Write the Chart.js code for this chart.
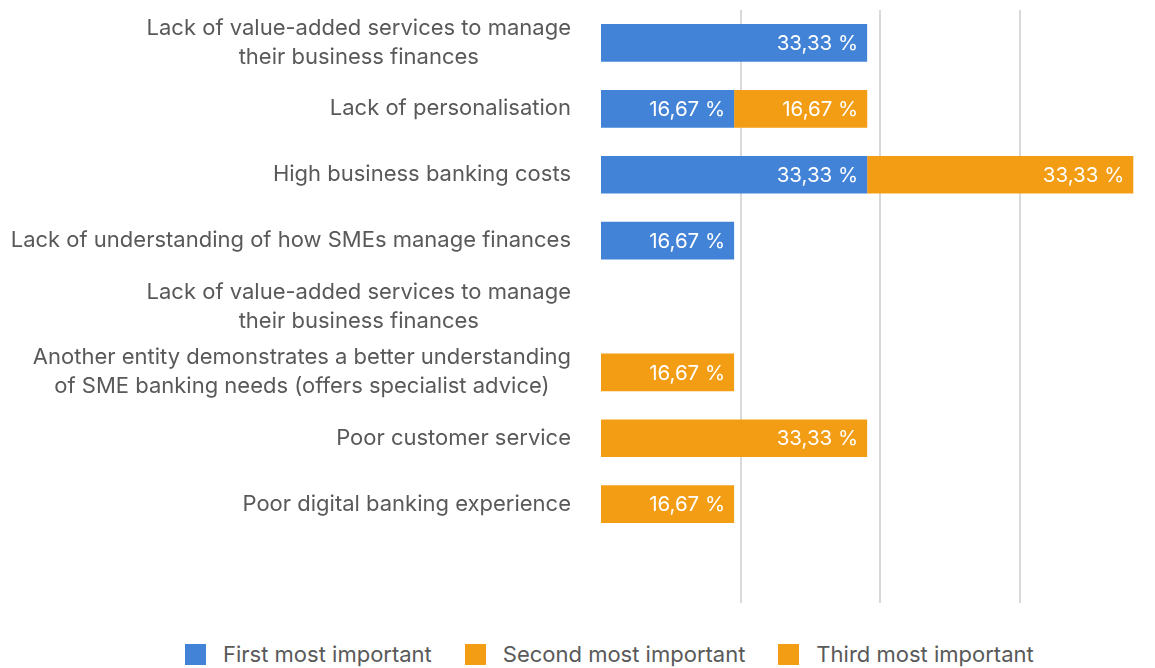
<!DOCTYPE html>
<html>
<head>
<meta charset="utf-8">
<script src="https://cdn.jsdelivr.net/npm/chart.js@4.4.0/dist/chart.umd.min.js"></script>
<style>
  html, body { margin:0; padding:0; background:#fff; }
  body { width:1155px; height:668px; overflow:hidden; font-family:Inter, sans-serif; position:relative; }
  #wrap { position:absolute; left:0; top:0; width:1155px; height:630px; }
  #legend { position:absolute; left:185px; top:644px; height:21px; display:flex; align-items:center; }
  .item { display:flex; align-items:center; margin-right:33px; }
  .box { width:21px; height:21px; margin-right:17px; }
  .txt { font-size:22px; color:#595959; line-height:21px; white-space:nowrap; }
</style>
</head>
<body>
<div id="wrap"><canvas id="chart"></canvas></div>
<div id="legend"></div>
<script>
const categories = [
  ['Lack of value-added services to manage', 'their business finances'],
  ['Lack of personalisation'],
  ['High business banking costs'],
  ['Lack of understanding of how SMEs manage finances'],
  ['Lack of value-added services to manage', 'their business finances'],
  ['Another entity demonstrates a better understanding', 'of SME banking needs (offers specialist advice)'],
  ['Poor customer service'],
  ['Poor digital banking experience'],
  ['']
];
const seriesNames = ['First most important', 'Second most important', 'Third most important'];
const firstVals  = [33.33, 16.67, 33.33, 16.67, null, null, null, null, null];
const secondVals = [null, 16.67, 33.33, null, null, 16.67, 33.33, null, null];
const thirdVals  = [null, null, null, null, null, null, null, 16.67, null];
const gridTicks  = [17.5, 35, 52.5];
const colors = ['#4283D7', '#F39D14', '#F39D14'];

const fmt = v => v.toFixed(2).replace('.', ',') + ' %';

const barValues = {
  id: 'barValues',
  afterDatasetsDraw(chart) {
    const ctx = chart.ctx;
    ctx.save();
    ctx.font = '20.5px Inter';
    ctx.fillStyle = '#fff';
    ctx.textAlign = 'right';
    ctx.textBaseline = 'middle';
    chart.data.datasets.forEach((ds, i) => {
      chart.getDatasetMeta(i).data.forEach((bar, j) => {
        const v = ds.data[j];
        if (!v) return;
        ctx.fillText(fmt(v), bar.x - 9, bar.y + 1);
      });
    });
    ctx.restore();
  }
};

// y labels: block right-aligned, lines centred inside the block
const catLabels = {
  id: 'catLabels',
  afterDraw(chart) {
    const ys = chart.scales.y, ctx = chart.ctx;
    const right = chart.chartArea.left - 30;
    ctx.save();
    ctx.font = '22px Inter';
    ctx.fillStyle = '#595959';
    ctx.textAlign = 'center';
    ctx.textBaseline = 'middle';
    categories.forEach((lines, i) => {
      const w = Math.max(...lines.map(l => ctx.measureText(l).width));
      const cx = right - w / 2;
      const cy = ys.getPixelForValue(i);
      lines.forEach((l, k) => ctx.fillText(l, cx, cy + (k - (lines.length - 1) / 2) * 29));
    });
    ctx.restore();
  }
};

const datasets = [firstVals, secondVals, thirdVals].map((d, i) => ({
  label: seriesNames[i],
  data: d,
  backgroundColor: colors[i],
  borderWidth: 0,
  barPercentage: 0.572,
  categoryPercentage: 1
}));

const chart = new Chart(document.getElementById('chart'), {
  type: 'bar',
  data: { labels: categories, datasets },
  options: {
    indexAxis: 'y',
    responsive: true,
    maintainAspectRatio: false,
    animation: false,
    layout: { padding: { top: 10, bottom: 27, left: 0, right: 11 } },
    plugins: { legend: { display: false }, tooltip: { enabled: false } },
    scales: {
      x: {
        stacked: true, min: 0, max: 68,
        afterBuildTicks: s => { s.ticks = gridTicks.map(v => ({ value: v })); },
        ticks: { display: false },
        border: { display: false },
        grid: { color: '#d9d9d9', lineWidth: 2, drawTicks: false }
      },
      y: {
        stacked: true,
        afterFit: s => { s.width = 601; },
        ticks: { display: false },
        border: { display: false },
        grid: { display: false }
      }
    }
  },
  plugins: [barValues, catLabels]
});

document.getElementById('legend').innerHTML = seriesNames.map((n, i) => `
  <div class="item"><span class="box" style="background:${colors[i]}"></span><span class="txt">${n}</span></div>`).join('');
</script>
</body>
</html>
